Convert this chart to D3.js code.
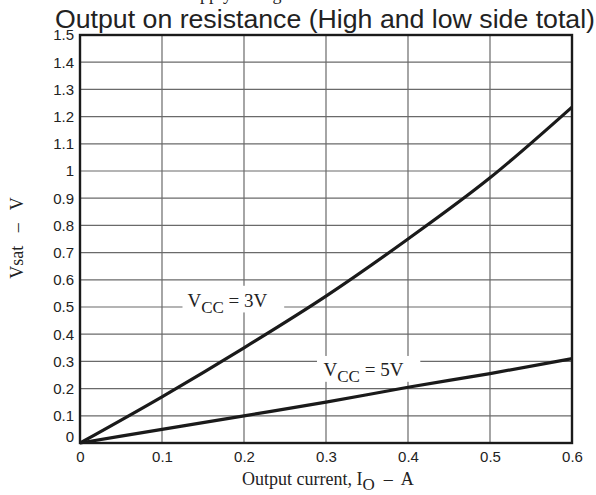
<!DOCTYPE html>
<html>
<head>
<meta charset="utf-8">
<script src="https://cdn.jsdelivr.net/npm/d3@7"></script>
<style>
  body { margin:0; background:#fff; }
  .tick text { font-family:"Liberation Sans", Arial, sans-serif; font-size:15px; fill:#222; }
  .serif { font-family:"Liberation Serif", "Times New Roman", serif; fill:#222; }
</style>
</head>
<body>
<svg id="chart" width="596" height="495"></svg>
<script>
// data
const current = [0, 0.1, 0.2, 0.3, 0.4, 0.5, 0.6];
const vsat3V = [0, 0.17, 0.35, 0.54, 0.75, 0.975, 1.235];
const vsat5V = [0, 0.05, 0.10, 0.15, 0.205, 0.255, 0.31];
const xTicks = [0, 0.1, 0.2, 0.3, 0.4, 0.5, 0.6];
const yTicks = [0, 0.1, 0.2, 0.3, 0.4, 0.5, 0.6, 0.7, 0.8, 0.9, 1, 1.1, 1.2, 1.3, 1.4, 1.5];

const svg = d3.select('#chart');
const margin = { top:35, right:24, bottom:52, left:80 };
const width = +svg.attr('width');
const height = +svg.attr('height');
const innerWidth = width - margin.left - margin.right;
const innerHeight = height - margin.top - margin.bottom;

const xscale = d3.scaleLinear().domain([0, 0.6]).range([0, innerWidth]);
const yscale = d3.scaleLinear().domain([0, 1.5]).range([innerHeight, 0]);

// clipped line of text at the very top
svg.append('text')
    .attr('class','serif')
    .attr('x', 181).attr('y', 0)
    .style('font-size','18px')
    .text('Supply voltage');

svg.append('text')
    .attr('x', 325).attr('y', 28)
    .attr('text-anchor','middle')
    .style('font-family','"Liberation Sans", Arial, sans-serif')
    .style('font-size','26px')
    .attr('fill','#222')
    .attr('textLength', 540)
    .attr('lengthAdjust','spacingAndGlyphs')
    .text('Output on resistance (High and low side total)');

const g = svg.append('g')
    .attr('transform',`translate(${margin.left},${margin.top})`);

// grid
g.append('g').selectAll('line').data(xTicks.slice(1, -1))
    .enter().append('line')
        .attr('x1', d => xscale(d)).attr('x2', d => xscale(d))
        .attr('y1', 0).attr('y2', innerHeight)
        .attr('stroke','#6a6a6a').attr('stroke-width',1.2);
g.append('g').selectAll('line').data(yTicks.slice(1, -1))
    .enter().append('line')
        .attr('y1', d => yscale(d)).attr('y2', d => yscale(d))
        .attr('x1', 0).attr('x2', innerWidth)
        .attr('stroke','#6a6a6a').attr('stroke-width',1.2);

// axes (labels only)
const xAxis = g.append('g')
    .attr('transform',`translate(0,${innerHeight})`)
    .call(d3.axisBottom(xscale).tickValues(xTicks).tickSize(0).tickPadding(8).tickFormat(d3.format('')));
xAxis.select('.domain').remove();

const yAxis = g.append('g')
    .call(d3.axisLeft(yscale).tickValues(yTicks).tickSize(0).tickPadding(6).tickFormat(d3.format('')));
yAxis.select('.domain').remove();
yAxis.selectAll('.tick').filter(d => d === 0).select('text').attr('y', -6);

// curves
const line = d3.line()
    .x((d, i) => xscale(current[i]))
    .y(d => yscale(d))
    .curve(d3.curveMonotoneX);

[vsat3V, vsat5V].forEach(series => {
    g.append('path')
        .attr('d', line(series))
        .attr('fill','none')
        .attr('stroke','#1a1a1a')
        .attr('stroke-width',3.2);
});

// curve labels with white box
const labels = [
    { x: 0.131, y: 0.5, name: '3V', box: [0.131 - 0.006, 0.578, 0.249, 0.48] },
    { x: 0.297, y: 0.245, name: '5V', box: [0.289, 0.32, 0.415, 0.225] }
];
labels.forEach(l => {
    g.append('rect')
        .attr('x', xscale(l.box[0]))
        .attr('y', yscale(l.box[1]))
        .attr('width', xscale(l.box[2]) - xscale(l.box[0]))
        .attr('height', yscale(l.box[3]) - yscale(l.box[1]))
        .attr('fill','#fff');
    const t = g.append('text')
        .attr('class','serif')
        .attr('x', xscale(l.x))
        .attr('y', yscale(l.y))
        .style('font-size','19px');
    t.append('tspan').text('V');
    t.append('tspan').attr('dy', 6).style('font-size','17px').text('CC');
    t.append('tspan').attr('dy', -6).text(` = ${l.name}`);
});

// frame
g.append('rect')
    .attr('width', innerWidth).attr('height', innerHeight)
    .attr('fill','none').attr('stroke','#1a1a1a').attr('stroke-width',2.4);

// axis titles
const xt = svg.append('text')
    .attr('class','serif')
    .attr('x', 328).attr('y', 485)
    .attr('text-anchor','middle')
    .style('font-size','18px')
    .attr('xml:space','preserve')
    .style('white-space','pre');
xt.append('tspan').text('Output current, I');
xt.append('tspan').attr('dy', 5).style('font-size','17px').text('O');
xt.append('tspan').attr('dy', -5).text('  –  A');

svg.append('text')
    .attr('class','serif')
    .attr('transform','translate(23,238) rotate(-90)')
    .attr('text-anchor','middle')
    .style('font-size','18px')
    .style('white-space','pre')
    .text('Vsat   –   V');
</script>
</body>
</html>
